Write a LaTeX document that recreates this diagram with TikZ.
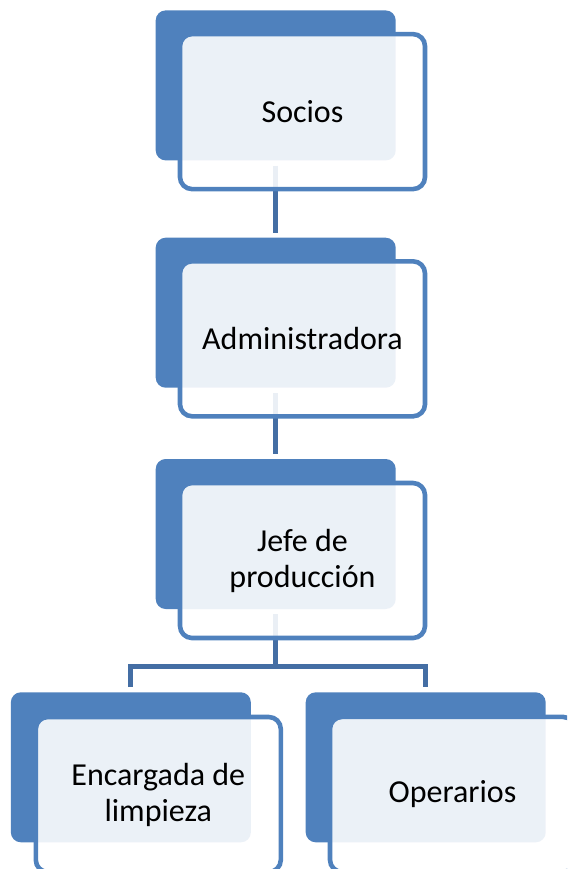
\documentclass[tikz,border=0pt]{standalone}
\usepackage{fontspec}
\setmainfont{Carlito}
\definecolor{accent}{RGB}{79,129,189}
\definecolor{connector}{RGB}{68,110,164}
\tikzset{
  backbox/.style={fill=accent, draw=none, rounded corners=10pt, minimum width=240pt, minimum height=150pt, inner sep=0pt},
  frontbox/.style={fill=white, fill opacity=0.89, text opacity=1, draw=accent, draw opacity=1, line width=4.6pt, rounded corners=12pt, minimum width=245pt, minimum height=155pt, inner sep=0pt, align=center, font=\fontsize{32}{36}\selectfont},
  link/.style={draw=connector, line width=5pt}
}
\begin{document}
\begin{tikzpicture}[x=1pt,y=-1pt]
\useasboundingbox (0,0) rectangle (567,869);
\clip (0,0) rectangle (567,869);
% back boxes
\node[backbox] (b1) at (275.7,85.4) {};
\node[backbox] (b2) at (275.7,312.7) {};
\node[backbox] (b3) at (275.7,534) {};
\node[backbox] (b4) at (130.85,767.3) {};
\node[backbox] (b5) at (425.7,767.3) {};
% connectors
\coordinate (j) at (275.7,666.7);
\draw[link] ([yshift=-5pt]b1.south) -- ([yshift=5pt]b2.north);
\draw[link] ([yshift=-5pt]b2.south) -- ([yshift=5pt]b3.north);
\draw[link] ([yshift=-5pt]b3.south) -- (j);
\draw[link] ([yshift=5pt]b4.north) |- (j) -| ([yshift=5pt]b5.north);
% front boxes
\node[frontbox] (f1) at (302.5,111.6) {Socios};
\node[frontbox] (f2) at (302.5,338.8) {Administradora};
\node[frontbox] (f3) at (302.5,560.5) {Jefe de\\producción};
\node[frontbox] (f4) at (158.3,794.5) {Encargada de\\limpieza};
\node[frontbox] (f5) at (452.5,794.4) {Operarios};
\end{tikzpicture}
\end{document}
